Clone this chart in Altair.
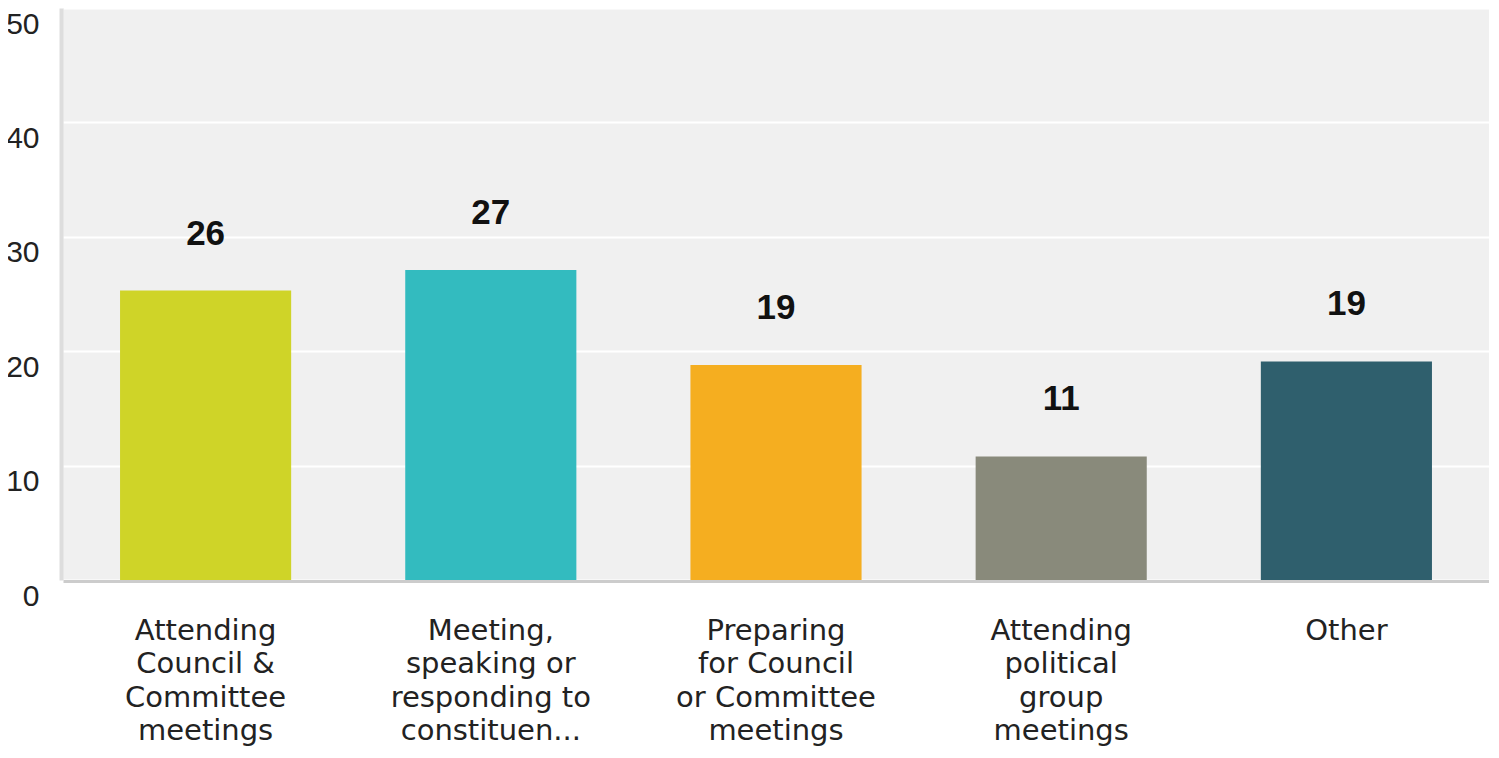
import altair as alt
import pandas as pd

categories = [
    "Attending|Council &|Committee|meetings",
    "Meeting,|speaking or|responding to|constituen...",
    "Preparing|for Council|or Committee|meetings",
    "Attending|political|group|meetings",
    "Other",
]
values = [25.3, 27.1, 18.8, 10.8, 19.1]
value_labels = ["26", "27", "19", "11", "19"]
colors = ["#cfd428", "#33bbbf", "#f5ae20", "#898a7b", "#2f5f6d"]
y_ticks = [0, 10, 20, 30, 40, 50]

df = pd.DataFrame({"cat": categories, "value": values, "label": value_labels})

FONT = "Liberation Sans"

x = alt.X(
    "cat:N",
    sort=categories,
    scale=alt.Scale(paddingInner=0.4, paddingOuter=0.2),
    axis=alt.Axis(
        title=None,
        labelExpr="split(datum.label, '|')",
        labelAngle=0,
        labelFont="DejaVu Sans",
        labelFontSize=29,
        labelLineHeight=33.5,
        labelColor="#222222",
        labelPadding=35,
        labelLimit=400,
        ticks=False,
        domainColor="#cccccc",
        domainWidth=3,
        offset=1,
    ),
)

y = alt.Y(
    "value:Q",
    scale=alt.Scale(domain=[0, 50], nice=False),
    axis=alt.Axis(
        title=None,
        values=y_ticks,
        labelFont=FONT,
        labelFontSize=30,
        labelColor="#222222",
        labelBaseline="top",
        labelOffset=1,
        labelPadding=22,
        ticks=False,
        domainColor="#dddddd",
        domainWidth=4,
        offset=2,
        gridColor="#ffffff",
        gridWidth=2,
    ),
)

bars = alt.Chart(df).mark_bar().encode(
    x=x,
    y=y,
    color=alt.Color("cat:N", sort=categories,
                    scale=alt.Scale(domain=categories, range=colors), legend=None),
)

texts = alt.Chart(df).mark_text(
    dy=-46, baseline="alphabetic", font=FONT, fontSize=35, fontWeight="bold", color="#111111"
).encode(
    x=alt.X("cat:N", sort=categories),
    y=alt.Y("value:Q"),
    text="label:N",
)

chart = (
    alt.layer(bars, texts)
    .properties(
        width=1426,
        height=572,
        autosize=alt.AutoSizeParams(type="none"),
        padding={"left": 55, "top": 0, "right": 0, "bottom": 170},
    )
    .configure_view(fill="#f0f0f0", stroke=None)
)

chart.save("out.html", embed_options={"renderer": "svg", "actions": False})
